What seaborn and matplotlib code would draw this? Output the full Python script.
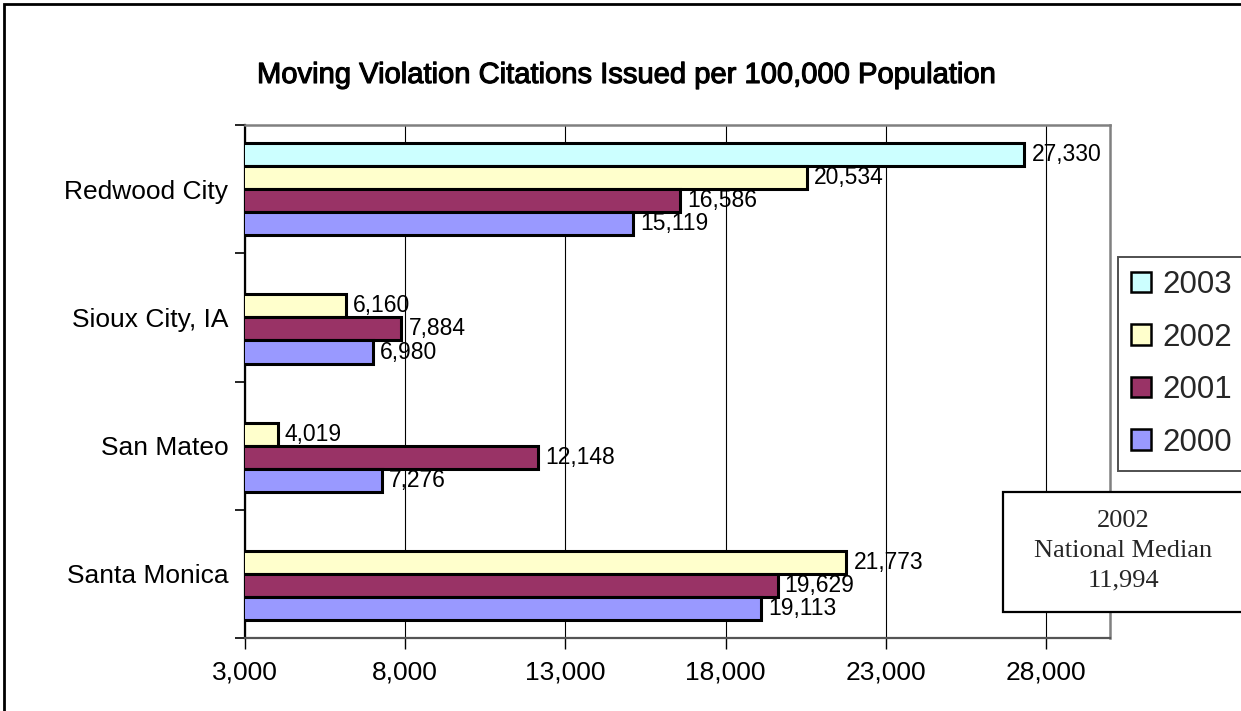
import matplotlib
matplotlib.use("Agg")
import matplotlib.pyplot as plt
import matplotlib.patheffects as pe
from matplotlib.patches import Patch, Rectangle
from matplotlib.ticker import FuncFormatter, FixedLocator
import seaborn as sns
import pandas as pd

# Citations per 100,000 population, by city and year (2003 reported for Redwood City only)
cities = ["Redwood City", "Sioux City, IA", "San Mateo", "Santa Monica"]
years = ["2003", "2002", "2001", "2000"]
v2003 = [27330, None, None, None]
v2002 = [20534, 6160, 4019, 21773]
v2001 = [16586, 7884, 12148, 19629]
v2000 = [15119, 6980, 7276, 19113]
x_ticks = [3000, 8000, 13000, 18000, 23000, 28000]
median_year = "2002"
median_value = 11994

colors = {"2003": "#CCFFFF", "2002": "#FFFFCC", "2001": "#993366", "2000": "#9999FF"}

rows = []
for yr, vals in zip(years, [v2003, v2002, v2001, v2000]):
    for city, v in zip(cities, vals):
        if v is not None:
            rows.append({"city": city, "year": yr, "value": v})
df = pd.DataFrame(rows)

sns.set_style("white")
plt.rcParams["font.family"] = ["Liberation Sans", "DejaVu Sans"]

W, H = 1241, 711
fig = plt.figure(figsize=(W / 100, H / 100), dpi=100)
ax = fig.add_axes([245 / W, 1 - 638 / H, (1110 - 245) / W, (638 - 125) / H])

sns.barplot(data=df, x="value", y="city", hue="year", order=cities,
            hue_order=years, palette=colors, saturation=1, orient="h", width=0.72,
            edgecolor="black", linewidth=2.2, errorbar=None, legend=False,
            zorder=3, ax=ax)

ax.set_xlim(3000, 30000)
ax.set_ylim(len(cities) - 0.5, -0.5)
ax.set_xticks(x_ticks)
ax.xaxis.set_major_formatter(FuncFormatter(lambda v, p: f"{v:,.0f}"))
ax.grid(axis="x", color="black", linewidth=0.8, zorder=0)
ax.set_axisbelow(True)
ax.set_xlabel("")
ax.set_ylabel("")

# Category boundary ticks on the y axis
ax.yaxis.set_minor_locator(FixedLocator([i - 0.5 for i in range(len(cities) + 1)]))
ax.tick_params(axis="y", which="major", length=0, pad=12, labelsize=19, colors="black")
ax.tick_params(axis="y", which="minor", length=7, width=1.2, direction="out", color="black", left=True)
ax.tick_params(axis="x", which="major", length=8, width=1, direction="out", color="black",
               bottom=True, pad=8, labelsize=19, labelcolor="black")

for side in ["top", "right"]:
    ax.spines[side].set_color("#808080")
    ax.spines[side].set_linewidth(1.8)
ax.spines["left"].set_color("black")
ax.spines["left"].set_linewidth(1.6)
ax.spines["bottom"].set_color("#555555")
ax.spines["bottom"].set_linewidth(1.6)

for cont in ax.containers:
    ax.bar_label(cont, labels=[f"{b.get_width():,.0f}" for b in cont],
                 padding=5, fontsize=16.5, color="black", zorder=5)

fig.text(626 / W, 1 - 75 / H, "Moving Violation Citations Issued per 100,000 Population",
         ha="center", va="center", fontsize=21, color="black",
         path_effects=[pe.withStroke(linewidth=0.8, foreground="black")])

handles = [Patch(facecolor=colors[y], edgecolor="black", linewidth=1.8, label=y) for y in years]
fig.legend(handles=handles, loc="upper left", bbox_to_anchor=(1118 / W, 1 - 257 / H),
           fontsize=22.5, frameon=True, fancybox=False, edgecolor="#222222",
           handlelength=0.64, handleheight=0.64, handletextpad=0.36,
           labelspacing=0.72, borderpad=0.42, borderaxespad=0)
leg = fig.legends[0]
leg.get_frame().set_linewidth(1.4)

# National median note
fig.patches.append(Rectangle((1003 / W, 1 - 612 / H), 300 / W, 120 / H,
                             transform=fig.transFigure, facecolor="white",
                             edgecolor="black", linewidth=1.6, zorder=10))
fig.text(1123 / W, 1 - 551 / H, f"{median_year}\nNational Median\n{median_value:,}",
         ha="center", va="center", fontsize=19, family="Liberation Serif",
         linespacing=1.45, zorder=11)

# Outer chart frame
fig.patches.append(Rectangle((4 / W, -0.1), 1.2, 1.1 - 4 / H, transform=fig.transFigure,
                             facecolor="none", edgecolor="black", linewidth=2, zorder=12))

fig.savefig("out.png", dpi=100, facecolor="white")
